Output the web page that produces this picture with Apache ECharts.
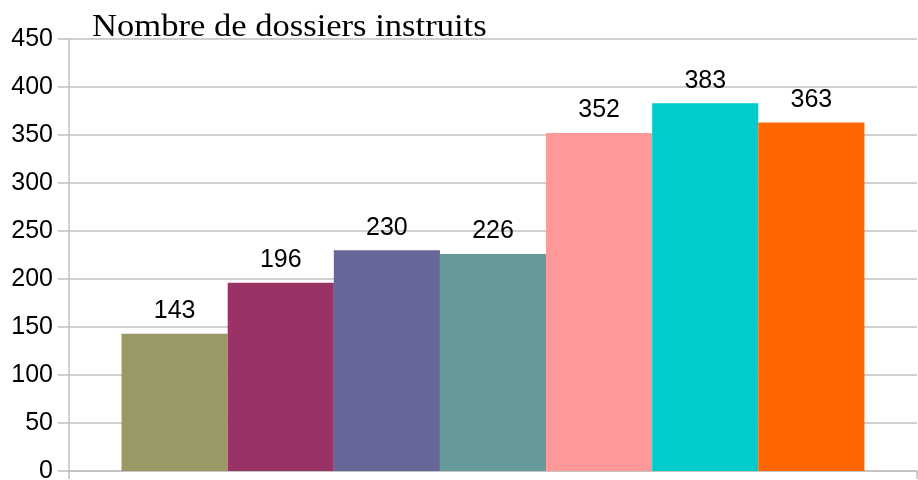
<!DOCTYPE html>
<html><head><meta charset="utf-8">
<script src="https://cdn.jsdelivr.net/npm/echarts@6/dist/echarts.min.js"></script>
<style>html,body{margin:0;padding:0;background:#fff}#c{width:918px;height:480px}</style>
</head><body><div id="c"></div>
<script>
const categories = [''];
const seriesValues = [143, 196, 230, 226, 352, 383, 363];
const seriesColors = ['#999966', '#993366', '#666699', '#669999', '#ff9999', '#00cccc', '#ff6600'];
const titleText = 'Nombre de dossiers instruits';
const chart = echarts.init(document.getElementById('c'));
const gray = '#c0c0c0';
chart.setOption({
  animation: false,
  graphic: [{
    type: 'text', x: 92, y: 12, scaleX: 1.115, scaleY: 1,
    style: { text: titleText, font: '31px "Liberation Serif"', fill: '#000' }
  }],
  grid: { left: 69, right: 1, top: 39, bottom: 9, outerBoundsMode: 'none' },
  xAxis: {
    type: 'category', data: categories,
    axisLine: { lineStyle: { color: gray, width: 1.5 } },
    axisTick: { show: true, length: 8, lineStyle: { color: gray, width: 1.5 } },
    axisLabel: { show: false }
  },
  yAxis: {
    type: 'value', min: 0, max: 450, interval: 50,
    axisLine: { show: true, lineStyle: { color: gray, width: 1.5 } },
    axisTick: { show: true, length: 11, lineStyle: { color: gray, width: 1.5 } },
    splitLine: { lineStyle: { color: gray, width: 1.5 } },
    axisLabel: { margin: 16, fontFamily: 'Liberation Sans', fontSize: 25, color: '#000' }
  },
  series: seriesValues.map((v, i) => ({
    type: 'bar', data: [v], barGap: '0%', barCategoryGap: '12.4%',
    itemStyle: { color: seriesColors[i] },
    label: { show: true, position: 'top', distance: 10, fontFamily: 'Liberation Sans', fontSize: 25, color: '#000' }
  }))
});
</script></body></html>
